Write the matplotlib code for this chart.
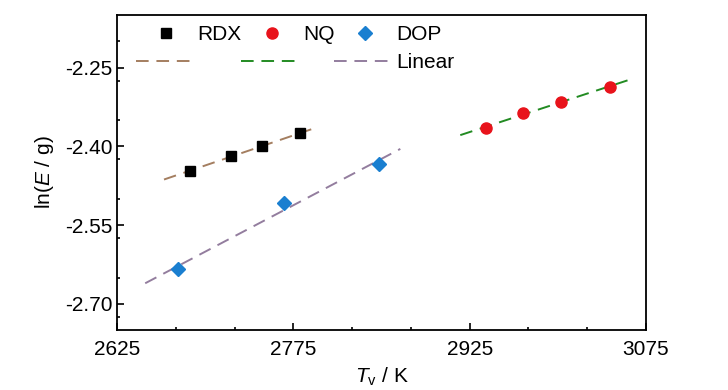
import numpy as np
import matplotlib
matplotlib.use("Agg")
import matplotlib.pyplot as plt

plt.rcParams['font.family'] = ['Liberation Sans', 'DejaVu Sans']
plt.rcParams['mathtext.fontset'] = 'custom'
plt.rcParams['mathtext.rm'] = 'Liberation Sans'
plt.rcParams['mathtext.it'] = 'Liberation Sans:italic'

# Data
rdx_T = [2687, 2722, 2748, 2781]
rdx_lnE = [-2.447, -2.419, -2.400, -2.375]
nq_T = [2939, 2970, 3003, 3044]
nq_lnE = [-2.365, -2.337, -2.315, -2.287]
dop_T = [2677, 2767, 2848]
dop_lnE = [-2.634, -2.509, -2.433]

# fit line extents
rdx_fit_range = [2665, 2794]
nq_fit_range = [2917, 3065]
dop_fit_range = [2649, 2866]

xticks = [2625, 2775, 2925, 3075]
yticks = [-2.70, -2.55, -2.40, -2.25]

fig = plt.figure(figsize=(7.28, 3.90), dpi=100)
ax = fig.add_axes([0.1607, 0.1538, 0.7267, 0.8077])

dash = (6.5, 4)
fit_styles = [
    (rdx_T, rdx_lnE, rdx_fit_range, '#a47e60'),
    (nq_T, nq_lnE, nq_fit_range, '#228b22'),
    (dop_T, dop_lnE, dop_fit_range, '#937d9e'),
]
fit_lines = []
for T, y, rng, c in fit_styles:
    k, b = np.polyfit(T, y, 1)
    xx = np.array(rng, dtype=float)
    ln, = ax.plot(xx, k * xx + b, color=c, lw=1.4, dashes=dash, zorder=2)
    fit_lines.append(ln)

h_rdx, = ax.plot(rdx_T, rdx_lnE, 's', color='black', ms=7.5, ls='none', zorder=3)
h_nq, = ax.plot(nq_T, nq_lnE, 'o', color='#e8131b', ms=8, ls='none', zorder=3)
h_dop, = ax.plot(dop_T, dop_lnE, 'D', color='#1a7fd0', ms=7, ls='none', zorder=3)

ax.set_xlim(2625, 3075)
ax.set_ylim(-2.75, -2.15)
ax.set_xticks(xticks)
ax.set_xticklabels([str(t) for t in xticks])
ax.set_xticks(np.arange(2675, 3075, 50), minor=True)
ax.set_yticks(yticks)
ax.set_yticklabels([f"{t:.2f}" for t in yticks])
ax.set_yticks(np.arange(-2.725, -2.15, 0.075), minor=True)

ax.tick_params(which='both', direction='in', labelsize=15, width=1.2, color='black')
ax.tick_params(which='major', length=5)
ax.tick_params(which='minor', length=2.5)
ax.tick_params(axis='x', pad=7)
for s in ax.spines.values():
    s.set_linewidth(1.3)

ax.set_xlabel(r'$\mathit{T}_{\mathrm{v}}$ / K', fontsize=15, labelpad=5)
ax.set_ylabel(r'ln($\mathit{E}$ / g)', fontsize=15, labelpad=6)

handles = [h_rdx, fit_lines[0], h_nq, fit_lines[1], h_dop, fit_lines[2]]
labels = ['RDX', ' ', 'NQ', ' ', 'DOP', 'Linear']
leg = ax.legend(handles, labels, ncol=3, loc='upper left', frameon=False,
                fontsize=15, handlelength=2.9, handletextpad=0.05,
                columnspacing=0.0, labelspacing=0.45,
                bbox_to_anchor=(0.02, 0.995), borderaxespad=0.0)

fig.savefig('out.png', dpi=100)
